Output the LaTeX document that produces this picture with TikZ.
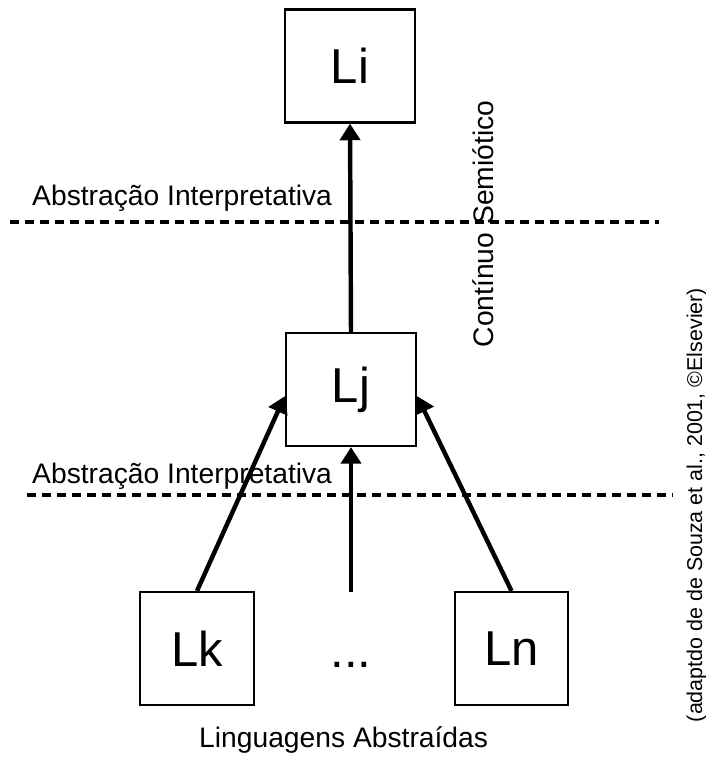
\documentclass[tikz,border=0pt]{standalone}
\usepackage{fontspec}
\setmainfont{Liberation Sans}
\usepackage{tikz}
\usetikzlibrary{arrows.meta}
\newcommand{\bigtxt}{\fontsize{41.8}{41.8}\selectfont}
\newcommand{\midtxt}{\fontsize{24.1}{24.1}\selectfont}
\newcommand{\smalltxt}{\fontsize{18.3}{18.3}\selectfont}

\begin{document}
\begin{tikzpicture}[x=0.3mm, y=-0.3mm,
lang/.style={draw, line width=2.1pt, inner sep=0pt, minimum height=33.8mm, font=\bigtxt},
flow/.style={line width=3.8pt, -{Triangle[length=5mm, width=6mm]}},
level/.style={line width=2.9pt, dash pattern=on 2.7mm off 1.8mm},
every label/.style={inner sep=0pt}]
\useasboundingbox (0,0) rectangle (706,765);

%languages
\node[lang, minimum width=39mm](li) at (350,66) {Li};
\node[lang, minimum width=39mm](lj) at (351,389.5) {Lj};
\node[lang, minimum width=34.2mm](lk) at (197,648.5) {Lk};
\node[lang, minimum width=34mm](ln) at (511.5,648.5) {Ln};
\node[inner sep=0pt, anchor=base, font=\bigtxt](dots) at (351,667) {...};
\coordinate(dtop) at (351,592);

%levels of abstraction
\coordinate(a1) at (10,222);
\coordinate(b1) at (659,222);
\coordinate(a2) at (27,495);
\coordinate(b2) at (673,495);
\draw[level] (a1) -- (b1);
\draw[level] (a2) -- (b2);
\node[inner sep=0pt, anchor=base west, font=\midtxt](abs1) at (32,205) {Abstração Interpretativa};
\node[inner sep=0pt, anchor=base west, font=\midtxt](abs2) at (32,483) {Abstração Interpretativa};

%arrows
\draw[flow] (lj.north) -- (li.south);
\draw[flow] (lk.north) -- ([yshift=-2mm]lj.west);
\draw[flow] (dtop) -- (lj.south);
\draw[flow] (ln.north) -- ([yshift=-2mm]lj.east);

%texts
\node[inner sep=0pt, anchor=base, rotate=90, font=\midtxt](cont) at (493,224) {Contínuo Semiótico};
\node[inner sep=0pt, anchor=base west, font=\midtxt](ling) at (199,747) {Linguagens Abstraídas};
\node[inner sep=0pt, anchor=base, rotate=90, font=\smalltxt](src) at (702,505) {(adaptdo de de Souza et al., 2001, ©Elsevier)};
\end{tikzpicture}
\end{document}
